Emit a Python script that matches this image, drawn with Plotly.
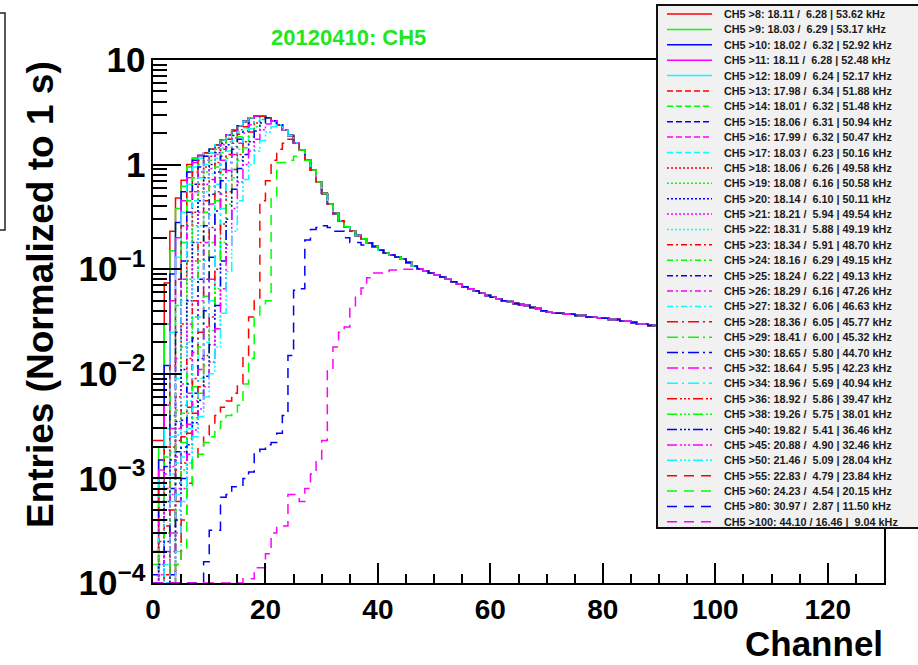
import plotly.graph_objects as go

# ---------------- data ----------------
thresholds = [8, 9, 10, 11, 12, 13, 14, 15, 16, 17, 18, 19, 20, 21, 22, 23, 24, 25, 26, 27,
              28, 29, 30, 32, 34, 36, 38, 40, 45, 50, 55, 60, 80, 100]
means = [18.11, 18.03, 18.02, 18.11, 18.09, 17.98, 18.01, 18.06, 17.99, 18.03, 18.06, 18.08,
         18.14, 18.21, 18.31, 18.34, 18.16, 18.24, 18.29, 18.32, 18.36, 18.41, 18.65, 18.64,
         18.96, 18.92, 19.26, 19.82, 20.88, 21.46, 22.83, 24.23, 30.97, 44.10]
sigmas = [6.28, 6.29, 6.32, 6.28, 6.24, 6.34, 6.32, 6.31, 6.32, 6.23, 6.26, 6.16, 6.10, 5.94,
          5.88, 5.91, 6.29, 6.22, 6.16, 6.06, 6.05, 6.00, 5.80, 5.95, 5.69, 5.86, 5.75, 5.41,
          4.90, 5.09, 4.79, 4.54, 2.87, 16.46]
rates_khz = [53.62, 53.17, 52.92, 52.48, 52.17, 51.88, 51.48, 50.94, 50.47, 50.16, 49.58, 50.58,
             50.11, 49.54, 49.19, 48.70, 49.15, 49.13, 47.26, 46.63, 45.77, 45.32, 44.70, 42.23,
             40.94, 39.47, 38.01, 36.46, 32.46, 28.04, 23.84, 20.15, 11.50, 9.04]

# common spectrum shape (entries per channel, channels 0..129)
envelope = [0.5, 0.6, 0.7, 0.8, 0.9, 1.0, 1.05, 1.15, 1.22, 1.3,
            1.4, 1.55, 1.72, 1.92, 2.12, 2.35, 2.58, 2.8, 2.92, 2.9,
            2.8, 2.62, 2.4, 2.15, 1.9, 1.62, 1.38, 1.1, 0.89, 0.68,
            0.53, 0.42, 0.34, 0.29, 0.255, 0.23, 0.21, 0.195, 0.178, 0.165,
            0.152, 0.143, 0.137, 0.131, 0.125, 0.116, 0.107, 0.101, 0.096, 0.092,
            0.088, 0.084, 0.080, 0.076, 0.072, 0.068, 0.065, 0.062, 0.059, 0.056,
            0.054, 0.052, 0.050, 0.049, 0.047, 0.046, 0.045, 0.043, 0.042, 0.040,
            0.039, 0.038, 0.038, 0.037, 0.037, 0.036, 0.036, 0.035, 0.035, 0.034,
            0.034, 0.033, 0.033, 0.032, 0.032, 0.031, 0.030, 0.030, 0.029, 0.029,
            0.028, 0.028, 0.028, 0.027, 0.027, 0.027, 0.026, 0.026, 0.026, 0.025,
            0.025, 0.025, 0.024, 0.024, 0.024, 0.023, 0.023, 0.023, 0.022, 0.022,
            0.022, 0.022, 0.021, 0.021, 0.021, 0.021, 0.020, 0.020, 0.020, 0.020,
            0.019, 0.019, 0.019, 0.019, 0.018, 0.018, 0.018, 0.018, 0.017, 0.017]

# leading channels of each threshold spectrum (from channel 0), before it joins the common shape
rise_8 = [2.3e-3, 2.3e-3, 0.074, 0.23, 0.48, 0.71, 1.0]
rise_9 = [1e-3, 2e-3, 0.03, 0.15, 0.38, 0.62, 0.95]
rise_10 = [6e-4, 1.5e-3, 0.012, 0.09, 0.28, 0.55, 0.85, 1.1]
rise_11 = [4e-4, 1.2e-3, 5e-3, 0.05, 0.2, 0.45, 0.75, 1.05]
rise_12 = [3e-4, 1e-3, 3e-3, 0.025, 0.13, 0.35, 0.65, 0.95, 1.15]
rise_13 = [2e-4, 8e-4, 2e-3, 0.012, 0.08, 0.26, 0.55, 0.85, 1.1]
rise_14 = [1.5e-4, 6e-4, 1.6e-3, 6e-3, 0.045, 0.18, 0.45, 0.75, 1.0, 1.2]
rise_15 = [1.2e-4, 5e-4, 1.3e-3, 4e-3, 0.025, 0.12, 0.35, 0.65, 0.95, 1.2]
rise_16 = [1e-4, 4e-4, 1.1e-3, 3e-3, 0.014, 0.08, 0.26, 0.55, 0.85, 1.1, 1.3]
rise_17 = [0, 3e-4, 9e-4, 2.5e-3, 9e-3, 0.05, 0.18, 0.45, 0.75, 1.0, 1.3]
rise_18 = [0, 2.5e-4, 8e-4, 2e-3, 6e-3, 0.03, 0.12, 0.35, 0.65, 0.95, 1.2, 1.45]
rise_19 = [0, 2e-4, 7e-4, 1.8e-3, 4.5e-3, 0.018, 0.08, 0.26, 0.55, 0.85, 1.1, 1.4]
rise_20 = [0, 1.5e-4, 6e-4, 1.5e-3, 3.5e-3, 0.011, 0.05, 0.18, 0.45, 0.75, 1.0, 1.3, 1.6]
rise_21 = [0, 1.2e-4, 5e-4, 1.3e-3, 3e-3, 8e-3, 0.03, 0.12, 0.35, 0.65, 0.92, 1.25, 1.55]
rise_22 = [0, 1e-4, 4e-4, 1.1e-3, 2.6e-3, 6e-3, 0.02, 0.08, 0.26, 0.55, 0.82, 1.15, 1.45, 1.8]
rise_23 = [0, 0, 3.5e-4, 1e-3, 2.3e-3, 5e-3, 0.014, 0.05, 0.18, 0.45, 0.72, 1.05, 1.4, 1.75]
rise_24 = [0, 0, 3e-4, 9e-4, 2e-3, 4.2e-3, 0.01, 0.035, 0.12, 0.35, 0.62, 0.95, 1.3, 1.65, 1.95]
rise_25 = [0, 0, 2.5e-4, 8e-4, 1.8e-3, 3.6e-3, 8e-3, 0.022, 0.08, 0.26, 0.52, 0.85, 1.2, 1.55, 1.9]
rise_26 = [0, 0, 2e-4, 7e-4, 1.6e-3, 3.2e-3, 6.5e-3, 0.016, 0.05, 0.18, 0.42, 0.75, 1.1, 1.45, 1.8, 2.15]
rise_27 = [0, 0, 1.5e-4, 6e-4, 1.4e-3, 2.8e-3, 5.5e-3, 0.012, 0.035, 0.12, 0.33, 0.65, 1.0, 1.35, 1.7, 2.05]
rise_28 = [0, 0, 1.2e-4, 5e-4, 1.2e-3, 2.5e-3, 4.8e-3, 9e-3, 0.025, 0.08, 0.25, 0.55, 0.9, 1.25, 1.6, 1.95, 2.3]
rise_29 = [0, 0, 1e-4, 4e-4, 1e-3, 2.2e-3, 4.2e-3, 7.5e-3, 0.018, 0.055, 0.18, 0.45, 0.8, 1.15, 1.5, 1.85, 2.25]
rise_30 = [0, 0, 0, 3.5e-4, 9e-4, 2e-3, 3.8e-3, 6.5e-3, 0.014, 0.04, 0.13, 0.36, 0.7, 1.05, 1.4, 1.75, 2.1, 2.5]
rise_32 = [0, 0, 0, 3e-4, 8e-4, 1.8e-3, 3.3e-3, 5.5e-3, 0.011, 0.028, 0.08, 0.24, 0.52, 0.88, 1.25, 1.6, 2.0, 2.4]
rise_34 = [0, 0, 0, 2.5e-4, 7e-4, 1.6e-3, 3e-3, 4.8e-3, 9e-3, 0.02, 0.05, 0.15, 0.38, 0.7, 1.05, 1.4, 1.8, 2.2, 2.6]
rise_36 = [0, 0, 0, 2e-4, 6e-4, 1.4e-3, 2.7e-3, 4.2e-3, 7.5e-3, 0.015, 0.035, 0.1, 0.27, 0.55, 0.9, 1.25, 1.65, 2.05, 2.5]
rise_38 = [0, 0, 0, 1.5e-4, 5e-4, 1.2e-3, 2.4e-3, 3.8e-3, 6.5e-3, 0.012, 0.026, 0.065, 0.18, 0.42, 0.75, 1.1, 1.45, 1.85, 2.3, 2.7]
rise_40 = [0, 0, 0, 1.2e-4, 4e-4, 1e-3, 2.1e-3, 3.4e-3, 5.6e-3, 9.5e-3, 0.019, 0.045, 0.12, 0.3, 0.58, 0.92, 1.25, 1.65, 2.1, 2.5]
rise_45 = [0, 0, 0, 0, 3e-4, 8e-4, 1.7e-3, 2.9e-3, 4.6e-3, 7.5e-3, 0.013, 0.027, 0.065, 0.17, 0.38, 0.68, 1.0, 1.35, 1.75, 2.15, 2.45]
rise_50 = [0, 0, 0, 0, 2e-4, 6e-4, 1.4e-3, 2.5e-3, 3.9e-3, 6e-3, 0.01, 0.018, 0.038, 0.095, 0.23, 0.45, 0.72, 1.0, 1.35, 1.7, 2.05, 2.3]
rise_55 = [0, 0, 0, 0, 1.5e-4, 4e-4, 9e-4, 1.5e-3, 2e-3, 2.6e-3, 3.2e-3, 4e-3, 4.8e-3, 5.5e-3, 6.5e-3,
           8e-3, 0.015, 0.035, 0.05, 0.45, 0.7, 1.1, 1.4, 1.6, 1.75]
rise_60 = [0, 0, 0, 1e-4, 1.5e-4, 2e-4, 8e-4, 1.5e-3, 1.7e-3, 2.2e-3, 2.5e-3, 3e-3, 3.5e-3, 4e-3, 4.3e-3,
           5e-3, 8e-3, 0.014, 0.035, 0.045, 0.05, 0.49, 1.05, 1.05, 1.1, 1.2]
rise_80 = [0, 0, 0, 0, 0, 0, 0, 0, 0, 1.6e-4, 3.2e-4, 3.2e-4, 6.6e-4, 7e-4, 8.3e-4, 8.3e-4, 1.0e-3, 1.15e-3,
           1.8e-3, 1.9e-3, 2.1e-3, 2.2e-3, 2.7e-3, 4e-3, 0.015, 0.063, 0.065, 0.19, 0.24, 0.25, 0.26, 0.25,
           0.23, 0.23, 0.2, 0.18, 0.18, 0.17]
rise_100 = [0, 0, 0, 0, 0, 0, 0, 0, 0, 0, 0, 0, 0, 0, 0, 0, 1.1e-4, 1.1e-4, 1.4e-4, 1.4e-4, 1.9e-4, 3e-4,
            3.5e-4, 3.5e-4, 7e-4, 7e-4, 6e-4, 8e-4, 1.1e-3, 1.5e-3, 2.3e-3, 0.011, 0.018, 0.025, 0.028,
            0.043, 0.054, 0.066, 0.083, 0.092, 0.092, 0.092, 0.098, 0.098, 0.1, 0.1, 0.1]

rises = [rise_8, rise_9, rise_10, rise_11, rise_12, rise_13, rise_14, rise_15, rise_16, rise_17,
         rise_18, rise_19, rise_20, rise_21, rise_22, rise_23, rise_24, rise_25, rise_26, rise_27,
         rise_28, rise_29, rise_30, rise_32, rise_34, rise_36, rise_38, rise_40, rise_45, rise_50,
         rise_55, rise_60, rise_80, rise_100]

# ---------------- styles ----------------
root_colors = ["#ff0000", "#00ff00", "#0000ff", "#ff00ff", "#00ffff"]
root_dashes = ["solid", "6px,3px", "2px,2px", "6px,3px,2px,3px", "11px,4px,2px,4px",
               "10px,3px,2px,2px,2px,2px,2px,3px", "10px,7px"]
FONT = "Liberation Sans, Arial, Helvetica, sans-serif"

W, H = 918, 665
L, R, T, B = 153, 884, 60, 583
YMIN = 1e-4


def px(x):
    return (x - L) / (R - L)


def py(y):
    return (B - y) / (B - T)


edges = list(range(0, 131))
fig = go.Figure()
for i, thr in enumerate(thresholds):
    rise = rises[i]
    vals = rise + envelope[len(rise):]
    vals = [v if v > 0 else YMIN for v in vals]
    fig.add_trace(go.Scatter(
        x=edges, y=vals + [vals[-1]], mode="lines",
        line=dict(color=root_colors[i % 5], width=1.5, dash=root_dashes[i // 5], shape="hv"),
        name=f"CH5 >{thr}", hoverinfo="skip"))

fig.update_layout(
    width=W, height=H, margin=dict(l=L, r=W - R, t=T, b=H - B),
    paper_bgcolor="white", plot_bgcolor="white", showlegend=False,
    font=dict(family=FONT, color="black"),
)
fig.update_xaxes(
    range=[0, 130], showline=True, linecolor="black", linewidth=2, mirror=True,
    ticks="inside", ticklen=20, tickwidth=2, tickcolor="black", tick0=0, dtick=20,
    minor=dict(ticks="inside", ticklen=9, tickwidth=2, tickcolor="black", dtick=5, showgrid=False),
    showgrid=False, zeroline=False,
    tickfont=dict(family=FONT, size=28, weight="bold", color="black"),
)
fig.update_yaxes(
    type="log", range=[-4, 1], showline=True, linecolor="black", linewidth=2, mirror=True,
    ticks="inside", ticklen=28, tickwidth=2, tickcolor="black", dtick=1, exponentformat="power",
    minor=dict(ticks="inside", ticklen=14, tickwidth=2, tickcolor="black", dtick="D1", showgrid=False),
    showgrid=False, zeroline=False,
    tickfont=dict(family=FONT, size=28, weight="bold", color="black"),
)

shapes = []
annotations = []

# legend box (drawn as real text + line samples)
shapes.append(dict(type="rect", xref="paper", yref="paper", x0=px(657), x1=px(935), y0=py(5), y1=py(528),
                   fillcolor="#f1f1f1", line=dict(color="#111111", width=2), layer="above"))
row0, row_step = 14.0, 15.39
for i, thr in enumerate(thresholds):
    yc = row0 + i * row_step
    shapes.append(dict(type="line", xref="paper", yref="paper", x0=px(667), x1=px(712), y0=py(yc), y1=py(yc),
                       line=dict(color=root_colors[i % 5], width=1.5, dash=root_dashes[i // 5]), layer="above"))
    sig = f"{sigmas[i]:5.2f}".replace(" ", "\u00a0")
    rate = f"{rates_khz[i]:5.2f}".replace(" ", "\u00a0")
    label = f"CH5 >{thr}: {means[i]:.2f} / {sig} | {rate} kHz".replace(" /", "\u00a0/").replace("/ ", "/\u00a0")
    annotations.append(dict(xref="paper", yref="paper", x=px(722), y=py(yc), xanchor="left", yanchor="middle",
                            text=label, showarrow=False,
                            font=dict(family=FONT, size=10.8, weight="bold", color="#1a1a1a")))

# partial box at the top-left corner
shapes.append(dict(type="path", xref="paper", yref="paper",
                   path=f"M {px(0)},{py(13)} L {px(5)},{py(13)} L {px(5)},{py(230)} L {px(0)},{py(230)}",
                   line=dict(color="#222222", width=1.5), layer="above"))

# title and axis titles
annotations.append(dict(xref="paper", yref="paper", x=px(348), y=py(38), xanchor="center", yanchor="middle",
                        text="20120410: CH5", showarrow=False,
                        font=dict(family=FONT, size=22, weight="bold", color="#22e622")))
annotations.append(dict(xref="paper", yref="paper", x=px(40), y=py(295), xanchor="center", yanchor="middle",
                        text="Entries (Normalized to 1 s)", textangle=-90, showarrow=False,
                        font=dict(family=FONT, size=37, weight="bold", color="black")))
annotations.append(dict(xref="paper", yref="paper", x=px(885), y=py(643), xanchor="right", yanchor="middle",
                        text="Channel", showarrow=False,
                        font=dict(family=FONT, size=35, weight="bold", color="black")))

fig.update_layout(shapes=shapes, annotations=annotations)
fig.write_html("out.html")
